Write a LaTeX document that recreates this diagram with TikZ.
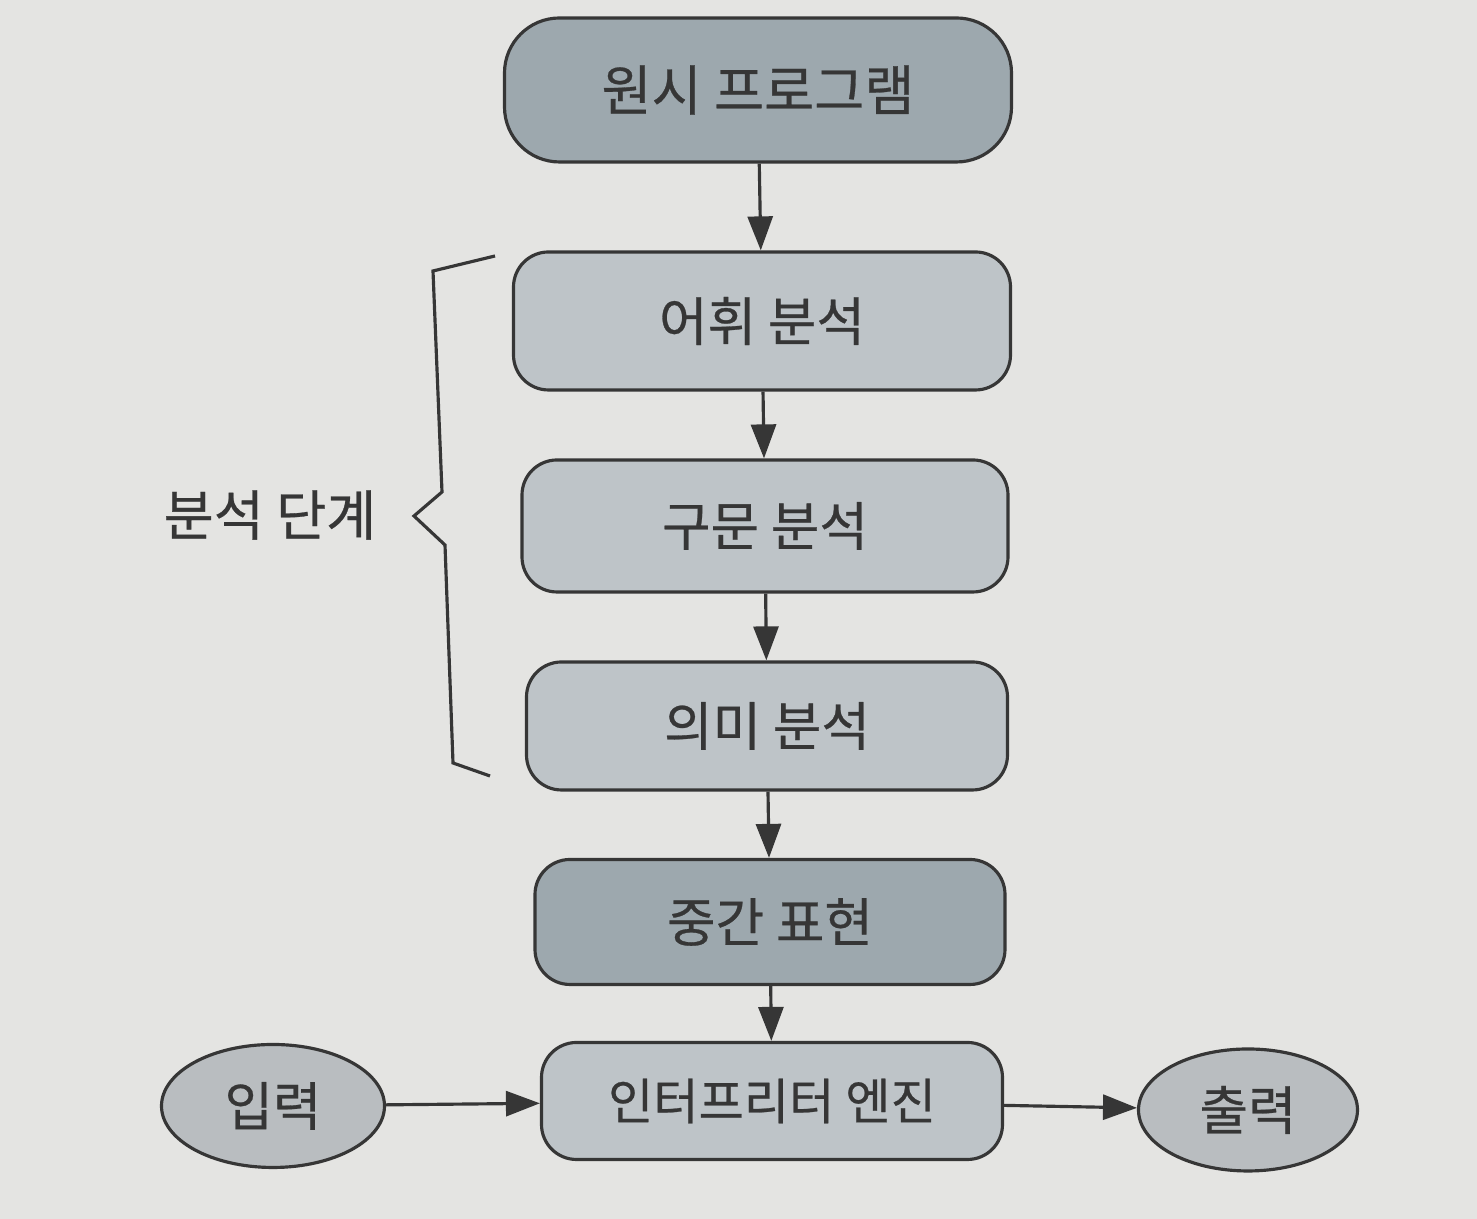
\documentclass[tikz,border=0pt]{standalone}
\usepackage{fontspec}
\setmainfont{Noto Sans CJK KR}[FakeBold=0.5]
\usetikzlibrary{arrows.meta,shapes.geometric}
\definecolor{paper}{HTML}{E4E4E2}
\definecolor{darkbox}{HTML}{9DA8AE}
\definecolor{lightbox}{HTML}{BEC4C8}
\definecolor{ovalfill}{HTML}{B9BDC0}
\definecolor{ink}{HTML}{363636}
\begin{document}
\begin{tikzpicture}[
  stage/.style={draw=ink,line width=0.9pt,rounded corners=0.35cm,fill=lightbox,
    text=ink,font=\fontsize{15}{17}\selectfont,inner sep=0pt},
  endstage/.style={stage,fill=darkbox},
  io/.style={draw=ink,line width=0.9pt,ellipse,fill=ovalfill,text=ink,
    font=\fontsize{15}{17}\selectfont,inner sep=0pt},
  flow/.style={draw=ink,line width=0.9pt,-{Triangle[length=0.34cm,width=0.25cm]}}]
  \fill[paper] (0,0) rectangle (14.77,12.19);
  \useasboundingbox (0,0) rectangle (14.77,12.19);
  % main pipeline
  \node[endstage,rounded corners=0.55cm,minimum width=5.07cm,minimum height=1.44cm,
    font=\fontsize{15.5}{17}\selectfont] (src) at (7.58,11.29) {원시 프로그램};
  \node[stage,minimum width=4.97cm,minimum height=1.38cm] (lex) at (7.62,8.98) {어휘 분석};
  \node[stage,minimum width=4.86cm,minimum height=1.32cm] (syn) at (7.65,6.93) {구문 분석};
  \node[stage,minimum width=4.81cm,minimum height=1.28cm] (sem) at (7.67,4.93) {의미 분석};
  \node[endstage,minimum width=4.70cm,minimum height=1.25cm] (ir) at (7.70,2.97) {중간 표현};
  \node[stage,minimum width=4.61cm,minimum height=1.17cm,
    font=\fontsize{14}{16}\selectfont] (eng) at (7.72,1.18) {인터프리터 엔진};
  \node[io,minimum width=2.23cm,minimum height=1.23cm] (in) at (2.73,1.13) {입력};
  \node[io,minimum width=2.19cm,minimum height=1.22cm] (out) at (12.48,1.09) {출력};
  \draw[flow] (src) -- (lex);
  \draw[flow] (lex) -- (syn);
  \draw[flow] (syn) -- (sem);
  \draw[flow] (sem) -- (ir);
  \draw[flow] (ir) -- (eng);
  \draw[flow] (in) -- (eng);
  \draw[flow] (eng) -- (out);
  % analysis phase brace
  \draw[ink,line width=0.9pt] (4.95,9.63) -- (4.33,9.48) -- (4.42,7.27) -- (4.14,7.03)
    -- (4.45,6.74) -- (4.53,4.56) -- (4.90,4.43);
  \node[text=ink,font=\fontsize{15.5}{17}\selectfont] (phase) at (2.70,7.04) {분석 단계};
\end{tikzpicture}
\end{document}
